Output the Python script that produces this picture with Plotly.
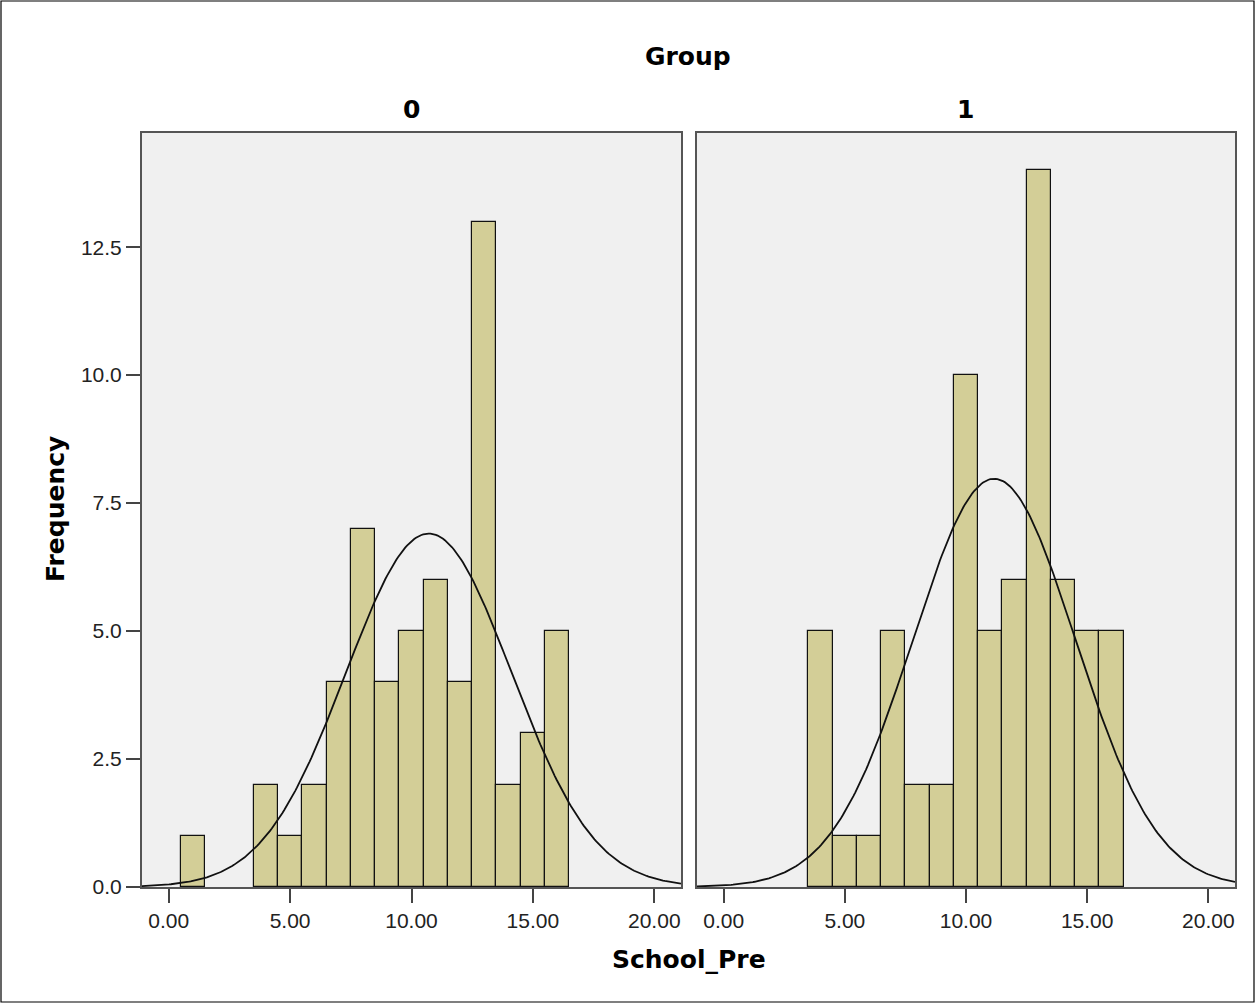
import numpy as np
import plotly.graph_objects as go

# Histogram of School_Pre by Group (bin width 1, bins centred on integers)
bin_centers = [1, 4, 5, 6, 7, 8, 9, 10, 11, 12, 13, 14, 15, 16]
group0_counts = [1, 2, 1, 2, 4, 7, 4, 5, 6, 4, 13, 2, 3, 5]

bin_centers_g1 = [4, 5, 6, 7, 8, 9, 10, 11, 12, 13, 14, 15, 16]
group1_counts = [5, 1, 1, 5, 2, 2, 10, 5, 6, 14, 6, 5, 5]

group_labels = ["0", "1"]
x_tick_vals = [0, 5, 10, 15, 20]
y_tick_vals = [0, 2.5, 5, 7.5, 10, 12.5]
bin_width = 1.0

W, H = 1257, 1004
ML, MR, MT, MB = 142, 22, 133, 117
PW = W - ML - MR
PH = H - MT - MB


def px_x(p):
    return (p - ML) / PW


def px_y(p):
    return (H - MB - p) / PH


def normal_curve(centers, counts):
    c = np.asarray(centers, float)
    n = np.asarray(counts, float)
    total = n.sum()
    mean = (c * n).sum() / total
    sd = np.sqrt(((c - mean) ** 2 * n).sum() / (total - 1))
    xs = np.linspace(-1.1, 21.1, 300)
    ys = total * bin_width / (sd * np.sqrt(2 * np.pi)) * np.exp(-0.5 * ((xs - mean) / sd) ** 2)
    return xs, ys


BAR_FILL = "#D3CE97"
fig = go.Figure()

panels = [(bin_centers, group0_counts, "x", "y"), (bin_centers_g1, group1_counts, "x2", "y2")]
for centers, counts, xa, ya in panels:
    fig.add_trace(go.Bar(
        x=centers, y=counts, width=bin_width, xaxis=xa, yaxis=ya,
        marker=dict(color=BAR_FILL, line=dict(color="#111111", width=1.2)),
        showlegend=False, hoverinfo="x+y",
    ))
    cx, cy = normal_curve(centers, counts)
    fig.add_trace(go.Scatter(
        x=cx, y=cy, mode="lines", xaxis=xa, yaxis=ya,
        line=dict(color="#111111", width=1.8), showlegend=False, hoverinfo="skip",
    ))

tick_font = dict(family="Liberation Sans, Arial, sans-serif", size=21, color="#222222")
title_font = dict(family="DejaVu Sans, sans-serif", size=25, color="#000000")

x_common = dict(
    range=[-1.1, 21.1], tickvals=x_tick_vals, tickformat=".2f", ticks="outside",
    ticklen=14, tickwidth=1.5, tickcolor="#444444", showline=True, linecolor="#555555",
    linewidth=2, mirror=True, showgrid=False, zeroline=False, tickfont=tick_font,
    anchor=None,
)
y_common = dict(
    range=[0, 14.73], showline=True, linecolor="#555555", linewidth=2, mirror=True,
    showgrid=False, zeroline=False, domain=[0, 1],
)

d0 = [0, px_x(681)]
d1 = [px_x(697), 1]

fig.update_layout(
    width=W, height=H,
    margin=dict(l=ML, r=MR, t=MT, b=MB, pad=0),
    paper_bgcolor="white", plot_bgcolor="#F0F0F0",
    bargap=0,
    xaxis=dict(x_common, domain=d0, anchor="y"),
    xaxis2=dict(x_common, domain=d1, anchor="y2"),
    yaxis=dict(y_common, anchor="x", tickvals=y_tick_vals, tickformat=".1f",
               ticks="outside", ticklen=14, tickwidth=1.5, tickcolor="#444444",
               tickfont=tick_font),
    yaxis2=dict(y_common, anchor="x2", showticklabels=False, ticks=""),
)

# Panel backgrounds for the second facet
fig.add_shape(type="rect", xref="x2 domain", yref="y2 domain", x0=0, x1=1, y0=0, y1=1,
              fillcolor="#F0F0F0", line=dict(width=0), layer="below")

annotations = [
    dict(text="<b>Group</b>", x=px_x(688), y=px_y(56)),
    dict(text="<b>" + group_labels[0] + "</b>", x=(d0[0] + d0[1]) / 2, y=px_y(109)),
    dict(text="<b>" + group_labels[1] + "</b>", x=(d1[0] + d1[1]) / 2, y=px_y(109)),
    dict(text="<b>School_Pre</b>", x=px_x(689), y=px_y(959)),
    dict(text="<b>Frequency</b>", x=px_x(55), y=px_y(509), textangle=-90),
]
for a in annotations:
    fig.add_annotation(xref="paper", yref="paper", showarrow=False,
                       xanchor="center", yanchor="middle", font=title_font, **a)

# Thin outer frame around the whole chart
fig.add_shape(type="rect", xref="paper", yref="paper",
              x0=px_x(1), x1=px_x(1254), y0=px_y(1002), y1=px_y(1),
              line=dict(color="#000000", width=1.2), fillcolor="rgba(0,0,0,0)")

fig.write_html("out.html")
